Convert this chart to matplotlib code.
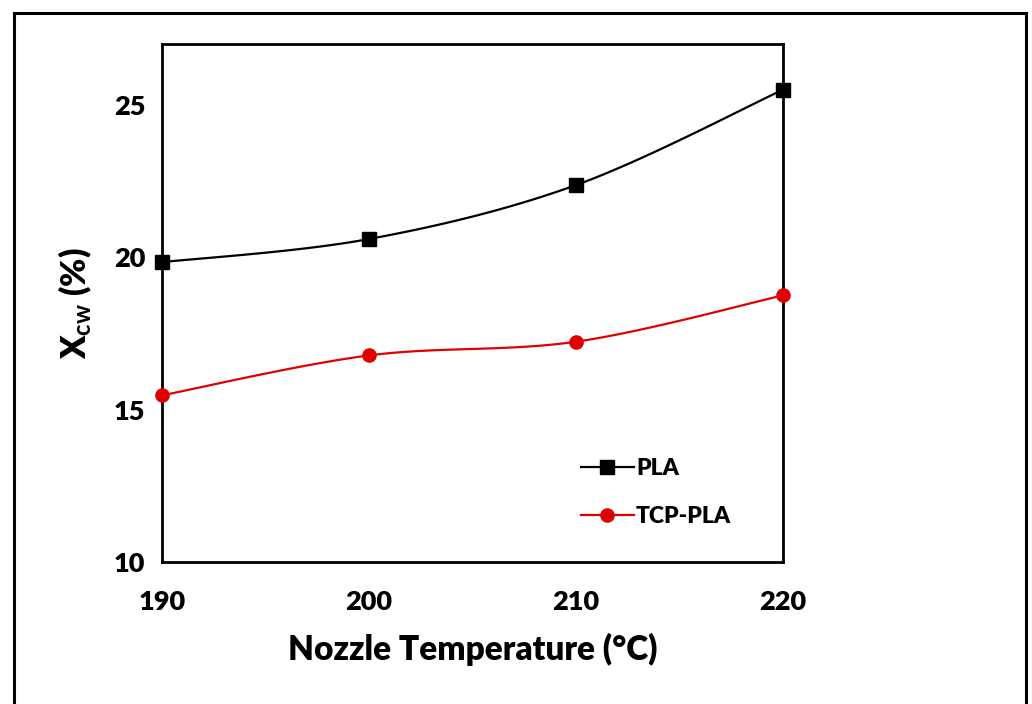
import numpy as np
import matplotlib
matplotlib.use("Agg")
import matplotlib.pyplot as plt
from matplotlib.lines import Line2D

plt.rcParams['font.family'] = ['Lato', 'DejaVu Sans']
plt.rcParams['font.weight'] = 'bold'
plt.rcParams['mathtext.fontset'] = 'custom'
plt.rcParams['mathtext.rm'] = 'Lato:bold'
plt.rcParams['mathtext.it'] = 'Lato:bold'
plt.rcParams['mathtext.bf'] = 'Lato:bold'

temperature = [190, 200, 210, 220]
pla = [19.84, 20.6, 22.37, 25.5]
tcp_pla = [15.47, 16.78, 17.23, 18.75]
series_names = ["PLA", "TCP-PLA"]
x_ticks = [190, 200, 210, 220]
y_ticks = [10, 15, 20, 25]


def smooth(xs, ys, n=40):
    xs = np.asarray(xs, float)
    ys = np.asarray(ys, float)
    px, py = [], []
    m = len(xs)
    for i in range(m - 1):
        i0 = max(i - 1, 0)
        i3 = min(i + 2, m - 1)
        c1x = xs[i] + (xs[i + 1] - xs[i0]) / 6
        c1y = ys[i] + (ys[i + 1] - ys[i0]) / 6
        c2x = xs[i + 1] - (xs[i3] - xs[i]) / 6
        c2y = ys[i + 1] - (ys[i3] - ys[i]) / 6
        t = np.linspace(0, 1, n)
        bx = (1 - t) ** 3 * xs[i] + 3 * (1 - t) ** 2 * t * c1x + 3 * (1 - t) * t ** 2 * c2x + t ** 3 * xs[i + 1]
        by = (1 - t) ** 3 * ys[i] + 3 * (1 - t) ** 2 * t * c1y + 3 * (1 - t) * t ** 2 * c2y + t ** 3 * ys[i + 1]
        px.extend(bx)
        py.extend(by)
    return np.array(px), np.array(py)


W = 'heavy'
fig = plt.figure(figsize=(10.32, 7.04), dpi=100)
ax = fig.add_axes([162 / 1032, 1 - 562 / 704, (783 - 162) / 1032, (562 - 44) / 704])

for ys, col, mk, ms in [(pla, 'black', 's', 9.5), (tcp_pla, '#e00000', 'o', 9.5)]:
    sx, sy = smooth(temperature, ys)
    ax.plot(sx, sy, color=col, lw=1.6, clip_on=False, zorder=3)
    ax.plot(temperature, ys, linestyle='none', marker=mk, color=col, ms=ms, clip_on=False, zorder=4)

ax.set_xlim(190, 220)
ax.set_ylim(10, 27)
ax.set_xticks(x_ticks)
ax.set_yticks(y_ticks)
ax.tick_params(length=0, labelsize=19.5, pad=12)
ax.tick_params(axis='x', pad=20)
for lab in ax.get_xticklabels() + ax.get_yticklabels():
    lab.set_fontweight(W)
for s in ax.spines.values():
    s.set_linewidth(2)
    s.set_color('black')

ax.set_xlabel("Nozzle Temperature (°C)", fontsize=24, fontweight=W, labelpad=14)
ax.set_ylabel(r"X$_{\mathrm{cw}}$ (%)", fontsize=24.5, fontweight=W, labelpad=14)

handles = [Line2D([], [], color='black', marker='s', ms=9.5, lw=1.6),
           Line2D([], [], color='#e00000', marker='o', ms=9.5, lw=1.6)]
ax.legend(handles, series_names, loc='upper left', bbox_to_anchor=(0.66, 0.219), frameon=False,
          prop={'weight': W, 'size': 16.5}, handlelength=2.3, handletextpad=0.1,
          labelspacing=1.2, borderaxespad=0)

# outer frame
fig.add_artist(Line2D([14 / 1032, 14 / 1032], [0, 1 - 13 / 704], color='black', lw=2.2, transform=fig.transFigure))
fig.add_artist(Line2D([14 / 1032, 1026 / 1032], [1 - 13 / 704, 1 - 13 / 704], color='black', lw=2.2, transform=fig.transFigure))
fig.add_artist(Line2D([1026 / 1032, 1026 / 1032], [0, 1 - 13 / 704], color='black', lw=2.2, transform=fig.transFigure))

fig.savefig("out.png", dpi=100)
